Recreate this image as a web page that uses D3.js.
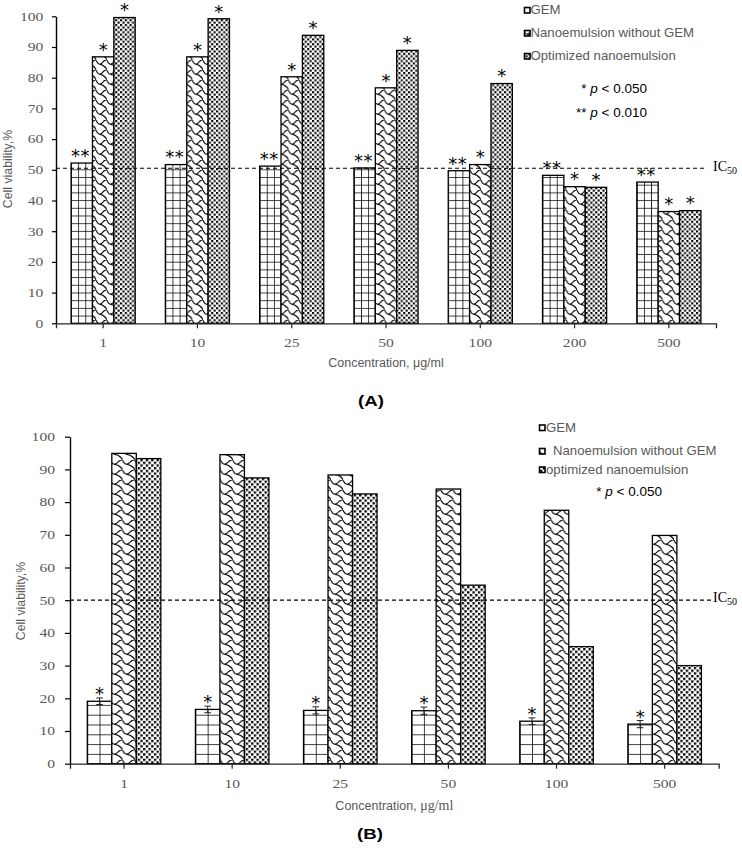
<!DOCTYPE html>
<html><head><meta charset="utf-8">
<script src="https://cdn.jsdelivr.net/npm/d3@7"></script>
<style>body{margin:0;background:#fff}</style>
</head><body><svg id="c" width="742" height="850" xmlns="http://www.w3.org/2000/svg"></svg>
<script>
// ---------- DATA ----------
const concA = ["1", "10", "25", "50", "100", "200", "500"];
const gemA  = [52.2, 51.7, 51.2, 50.6, 49.7, 48.2, 46.0];
const nanoA = [86.8, 86.8, 80.3, 76.7, 51.7, 44.5, 36.4];
const optA  = [99.6, 99.2, 93.8, 88.9, 78.1, 44.3, 36.7];
const sigGemA  = ["**", "**", "**", "**", "**", "**", "**"];
const sigNanoA = ["*", "*", "*", "*", "*", "*", "*"];
const sigOptA  = ["*", "*", "*", "*", "*", "*", "*"];
const namesA = ["GEM", "Nanoemulsion without GEM", "Optimized nanoemulsion"];
const notesA = [["* ", "p", " < 0.050"], ["** ", "p", " < 0.010"]];

const concB = ["1", "10", "25", "50", "100", "500"];
const gemB    = [19.1, 16.6, 16.3, 16.2, 13.0, 12.1];
const gemErrB = [1.0, 1.0, 1.1, 1.1, 1.0, 1.1];
const nanoB   = [94.9, 94.5, 88.3, 84.0, 77.5, 69.8];
const optB    = [93.3, 87.4, 82.5, 54.6, 35.8, 30.0];
const sigGemB = ["*", "*", "*", "*", "*", "*"];
const namesB = ["GEM", "Nanoemulsion without GEM", "optimized nanoemulsion"];
const notesB = [["* ", "p", " < 0.050"]];

const yTicks = [0, 10, 20, 30, 40, 50, 60, 70, 80, 90, 100];
const icA = 50.5, icB = 50;
const xTitle = ["Concentration, ", "\u03bcg/ml"];
const yTitle = "Cell viability,%";

// ---------- DRAW ----------
const svg = d3.select("#c");
const defs = svg.append("defs");
const GRAY = "#595959";

function txt(g, x, y, s, o = {}) {
  const t = g.append("text")
    .attr("transform", `translate(${x},${y})` + (o.rot ? ` rotate(${o.rot})` : "") + ` scale(${o.sx || 1},1)`)
    .attr("text-anchor", o.anchor || "start")
    .attr("font-family", o.ff || "Liberation Sans, Arial, sans-serif")
    .attr("font-size", o.fs || 12)
    .attr("fill", o.fill || GRAY);
  if (o.fw) t.attr("font-weight", o.fw);
  if (s !== null) t.text(s);
  return t;
}

// "shingle" style pattern
function makeNano(id, w, h) {
  const u = w / 8, v = h / 8;
  const p = defs.append("pattern").attr("id", id).attr("patternUnits", "userSpaceOnUse")
    .attr("width", w).attr("height", h);
  p.append("rect").attr("width", w).attr("height", h).attr("fill", "#fff");
  const P = (a, b) => `${(a * u).toFixed(2)},${(b * v).toFixed(2)}`;
  const d = `M${P(0,0.4)} Q${P(1.2,3.4)} ${P(2.6,3.4)} Q${P(4,3.3)} ${P(5.4,1.2)} Q${P(6.4,0)} ${P(8,0)}` +
            ` M${P(2.6,3.4)} Q${P(5.2,3.9)} ${P(6.6,5.6)} Q${P(7.8,7)} ${P(8,8.4)}`;
  p.append("path").attr("d", d).attr("fill", "none").attr("stroke", "#000")
    .attr("stroke-width", 1.15).attr("stroke-linecap", "round");
}
function makeDots(id, s, d) {
  const p = defs.append("pattern").attr("id", id).attr("patternUnits", "userSpaceOnUse")
    .attr("width", s).attr("height", s);
  p.append("rect").attr("width", s).attr("height", s).attr("fill", "#fff");
  p.append("rect").attr("x", 0).attr("y", 0).attr("width", d).attr("height", d).attr("fill", "#000");
  p.append("rect").attr("x", s/2).attr("y", s/2).attr("width", d).attr("height", d).attr("fill", "#000");
}
function makeGrid(id, x0, y0, w, h) {
  const p = defs.append("pattern").attr("id", id).attr("patternUnits", "userSpaceOnUse")
    .attr("x", x0).attr("y", y0).attr("width", w).attr("height", h);
  p.append("rect").attr("width", w).attr("height", h).attr("fill", "#fff");
  p.append("path").attr("d", `M0,0V${h}M0,0H${w}`).attr("stroke", "#000").attr("stroke-width", 1.5).attr("fill", "none");
}

function drawPanel(P) {
  const g = svg.append("g");
  const x = d3.scaleBand().domain(P.cats).range([P.x0, P.x1]).paddingInner(0.32).paddingOuter(0.16);
  const xs = d3.scaleBand().domain([0, 1, 2]).range([0, x.bandwidth()]);
  const y = d3.scaleLinear().domain([0, 100]).range([P.yb, P.yt]);
  const bw = xs.bandwidth();

  makeNano("nano" + P.id, bw / 2, P.nanoH);
  makeDots("opt" + P.id, P.dotS, P.dotD);
  P.cats.forEach((c, i) => makeGrid(`gem${P.id}${i}`, x(c) + xs(0), y(0), P.gridW(bw), P.gridH));

  // bars
  P.values.forEach((vals, s) => {
    g.append("g").selectAll("rect").data(vals).join("rect")
      .attr("x", (d, i) => x(P.cats[i]) + xs(s))
      .attr("y", d => y(d))
      .attr("width", bw)
      .attr("height", d => y(0) - y(d))
      .attr("fill", (d, i) => s === 0 ? `url(#gem${P.id}${i})` : `url(#${s === 1 ? "nano" : "opt"}${P.id})`)
      .attr("stroke", "#000").attr("stroke-width", 1.3);
  });

  // error bars
  if (P.err) {
    const eg = g.append("g").attr("stroke", "#222").attr("stroke-width", 1);
    P.err.forEach((e, i) => {
      const cx = x(P.cats[i]) + xs(0) + bw / 2, v = P.values[0][i];
      eg.append("path").attr("d",
        `M${cx},${y(v + e)}V${y(v - e)}M${cx - 3.3},${y(v + e)}H${cx + 3.3}M${cx - 3.3},${y(v - e)}H${cx + 3.3}`);
    });
  }

  // significance marks
  P.sig.forEach((arr, s) => {
    if (!arr) return;
    arr.forEach((m, i) => {
      const v = P.values[s][i];
      const top = (s === 0 && P.err) ? y(v + P.err[i]) + 2 : y(v) - 1.2;
      txt(g, x(P.cats[i]) + xs(s) + bw / 2 - (m.length > 1 ? 1.2 : 0), top, m,
        { anchor: "middle", fs: 18, ff: "DejaVu Sans, sans-serif", fill: "#000000" })
        .attr("letter-spacing", m.length > 1 ? 0.5 : 0);
    });
  });

  // IC50 line
  g.append("line").attr("x1", P.x0).attr("x2", P.icEnd).attr("y1", y(P.ic)).attr("y2", y(P.ic))
    .attr("stroke", "#000").attr("stroke-width", 1.2).attr("stroke-dasharray", "4,3");
  const ic = txt(g, 713, P.icBase, null, { ff: "Liberation Serif, serif", fs: 14, fill: "#000" });
  ic.append("tspan").text("IC");
  ic.append("tspan").attr("dy", 3).attr("font-size", 10).text("50");

  // y axis
  const ya = g.append("g").attr("transform", `translate(${P.x0},0)`)
    .call(d3.axisLeft(y).tickValues(yTicks).tickSize(P.yTick).tickSizeOuter(0).tickFormat(""));
  ya.select(".domain").attr("stroke", "#000").attr("stroke-width", 1.4);
  ya.selectAll(".tick line").attr("stroke", "#000").attr("stroke-width", 1.2);
  yTicks.forEach(v => txt(g, P.x0 - P.yLabGap, y(v) + 4.3, d3.format("d")(v),
    { anchor: "end", ff: "Liberation Serif, serif", fs: 12.5, sx: 1.25 }));

  // x axis
  const xa = g.append("g").attr("transform", `translate(0,${y(0)})`)
    .call(d3.axisBottom(x).tickSize(5).tickSizeOuter(5).tickFormat(""));
  xa.select(".domain").attr("stroke", "#262626").attr("stroke-width", 1.3);
  xa.selectAll(".tick line").attr("stroke", "#262626").attr("stroke-width", 1.2);
  P.cats.forEach(c => txt(g, x(c) + x.bandwidth() / 2, y(0) + P.xLabOff, c,
    { anchor: "middle", ff: "Liberation Serif, serif", fs: 12.5, sx: 1.25 }));

  // axis titles
  txt(g, P.yTitleX, P.yTitleY, yTitle, { rot: -90, anchor: "middle", fs: 12.3 });
  const xt = txt(g, (P.x0 + P.x1) / 2, P.xTitleBase, null, { anchor: "middle", fs: P.xtFs });
  xt.append("tspan").text(xTitle[0]);
  xt.append("tspan").attr("font-family", P.muSerif ? "Liberation Serif, serif" : "Liberation Sans, Arial, sans-serif")
    .attr("font-size", P.muSerif ? 14 : P.xtFs).text(xTitle[1]);
  txt(g, P.capX, P.capBase, `(${P.id})`, { anchor: "middle", fs: 15.5, fw: "bold", fill: "#000", sx: 1.2 });

  // legend
  const lgFill = ["#fff", `url(#nano${P.id})`, `url(#opt${P.id})`];
  P.names.forEach((n, k) => {
    const L = P.legend[k];
    g.append("rect").attr("x", L.mx).attr("y", L.by - 6.5).attr("width", 5.5).attr("height", 5.5)
      .attr("fill", lgFill[k]).attr("stroke", "#000").attr("stroke-width", 1.6);
    txt(g, L.tx, L.by, n, { fs: 12, sx: 1.1 });
  });

  // p-value notes
  P.notes.forEach((parts, k) => {
    const t = txt(g, P.noteX, P.noteBase[k], null, { anchor: "end", fs: 13.5, fill: "#000" });
    parts.forEach((s, j) => {
      const ts = t.append("tspan").text(s);
      if (j === 1) ts.attr("font-style", "italic");
    });
    t.attr("style", "white-space:pre");
  });
}

drawPanel({
  id: "A", cats: concA, values: [gemA, nanoA, optA], sig: [sigGemA, sigNanoA, sigOptA],
  names: namesA, notes: notesA, ic: icA,
  x0: 56, x1: 716, yb: 323.3, yt: 16.3,
  nanoH: 10, dotS: 4.8, dotD: 2.1, gridW: bw => bw / 3, gridH: 7.7,
  icEnd: 707, icBase: 170.5, yTick: 4, yLabGap: 12.7, xLabOff: 23.2,
  yTitleX: 12, yTitleY: 169, xTitleBase: 367.3, xtFs: 12.5, muSerif: false,
  capX: 371, capBase: 406,
  legend: [{ mx: 524.5, tx: 530.5, by: 14 }, { mx: 524.5, tx: 530.5, by: 37 }, { mx: 524.5, tx: 530.5, by: 60 }],
  noteX: 647, noteBase: [93, 116.5]
});

drawPanel({
  id: "B", cats: concB, values: [gemB, nanoB, optB], sig: [sigGemB, null, null], err: gemErrB,
  names: namesB, notes: notesB, ic: icB,
  x0: 70, x1: 718.7, yb: 763.7, yt: 436.7,
  nanoH: 10, dotS: 5.4, dotD: 2.3, gridW: bw => bw / 2, gridH: 9.8,
  icEnd: 711, icBase: 602.3, yTick: 5, yLabGap: 15, xLabOff: 24.3,
  yTitleX: 25, yTitleY: 601, xTitleBase: 810, xtFs: 12.5, muSerif: true,
  capX: 370, capBase: 839,
  legend: [{ mx: 539.5, tx: 546, by: 431.5 }, { mx: 539.5, tx: 553, by: 455 }, { mx: 539.5, tx: 546, by: 473.5 }],
  noteX: 662, noteBase: [495.7]
});
</script>
</body></html>
